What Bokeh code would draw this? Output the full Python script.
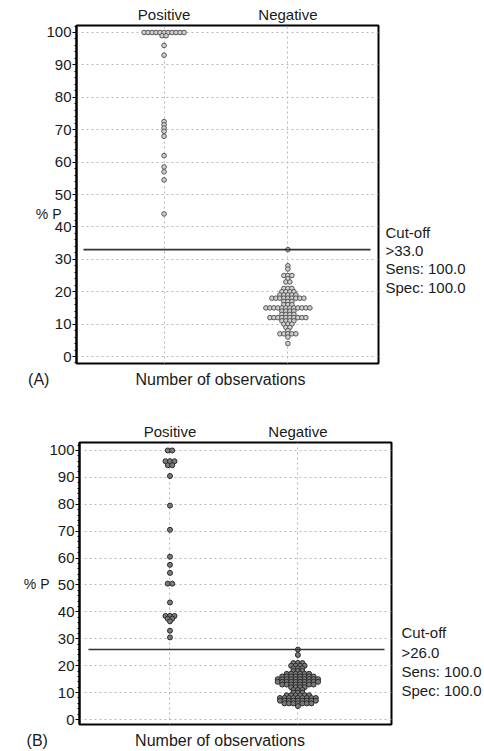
from bokeh.plotting import figure
from bokeh.models import FixedTicker, SingleIntervalTicker, Range1d, LinearAxis
from bokeh.embed import file_html
from bokeh.resources import INLINE

# ---------------- data ----------------
categories = ["Positive", "Negative"]
y_ticks = [0, 10, 20, 30, 40, 50, 60, 70, 80, 90, 100]
x_title = "Number of observations"
y_title = "% P"

# Panel A
a_pos_values = [100, 99, 96, 93, 72.5, 71.5, 70.5, 69.5, 68, 62, 58.5, 57, 54.5, 44]
a_pos_counts = [11, 2, 1, 1, 1, 1, 1, 1, 1, 1, 1, 1, 1, 1]
a_neg_values = [33, 28, 27, 25, 24, 23, 21, 20, 19, 18, 17, 16, 15, 14, 13, 12, 11, 10, 9, 8, 7, 6, 4]
a_neg_counts = [1, 1, 1, 3, 1, 2, 3, 4, 5, 9, 3, 3, 12, 4, 4, 10, 4, 3, 2, 1, 5, 1, 1]
a_cutoff = 33.0
a_texts = ["Cut-off", ">33.0", "Sens: 100.0", "Spec: 100.0"]

# Panel B
b_pos_values = [100, 96, 94.5, 90.5, 79.5, 70.5, 60.5, 57.5, 54.5, 50.5, 43.5, 38.5, 37.5, 36.5, 33, 30.5]
b_pos_counts = [2, 3, 2, 1, 1, 1, 1, 1, 1, 2, 1, 3, 2, 1, 1, 1]
b_neg_values = [26, 24, 21, 20, 19, 18, 17, 16, 15, 14, 13, 12, 11, 10, 9, 8, 7, 6, 5]
b_neg_counts = [1, 1, 3, 4, 3, 3, 6, 8, 10, 10, 8, 4, 3, 3, 6, 9, 9, 7, 1]
b_cutoff = 26.0
b_texts = ["Cut-off", ">26.0", "Sens: 100.0", "Spec: 100.0"]

POS_X, NEG_X = 2.9, 7.0
FONT = "Liberation Sans"
TXT = "#1a1a1a"
W = 484
NBSP = "\u00a0"


def swarm(center, values, counts, dx):
    xs, ys = [], []
    for v, n in zip(values, counts):
        for i in range(n):
            xs.append(center + (i - (n - 1) / 2) * dx)
            ys.append(v)
    return xs, ys


def text_axis(ax, size):
    ax.axis_line_color = None
    ax.major_tick_line_color = None
    ax.minor_tick_line_color = None
    ax.major_tick_out = 0
    ax.major_tick_in = 0
    ax.major_label_text_font = FONT
    ax.major_label_text_font_size = size
    ax.major_label_text_color = TXT


def panel(cfg):
    fl, ft, fw, fh = cfg["frame"]  # canvas coords of frame
    top0 = cfg["top0"]
    H = cfg["height"]
    y0, y1 = cfg["yr"]
    p = figure(width=W, height=H, output_backend="svg", toolbar_location=None,
               x_range=Range1d(0, 10), y_range=Range1d(y0, y1),
               min_border_left=fl, min_border_right=W - (fl + fw),
               min_border_top=ft - top0, min_border_bottom=top0 + H - (ft + fh),
               background_fill_color="white", border_fill_color="white")
    p.outline_line_color = "black"
    p.outline_line_width = 2

    def dx_(px):
        return round((px - fl) / fw * 10.0, 4)

    def dy_(py):
        return round(y1 - (py - ft) / fh * (y1 - y0), 3)

    # grids
    p.xgrid.ticker = FixedTicker(ticks=[POS_X, NEG_X])
    p.xgrid.grid_line_color = "#b8b8b8"
    p.xgrid.grid_line_dash = "2 3"
    p.ygrid.ticker = FixedTicker(ticks=y_ticks)
    p.ygrid.grid_line_color = "#b8b8b8"
    p.ygrid.grid_line_dash = "2 3"

    # below axis: panel tag and x title on one row (tick labels are centred)
    bx = p.xaxis[0]
    tag_x = 0.0
    tag_w = 21.3
    pad = int(round((2 * (fl - cfg["tag_left"]) - tag_w) / 4.45))
    nob_x = dx_(cfg["nob_center"])
    bx.ticker = FixedTicker(ticks=[tag_x, nob_x])
    bx.major_label_overrides = {tag_x: cfg["tag"] + NBSP * pad, nob_x: x_title}
    text_axis(bx, "16px")
    bx.major_label_standoff = cfg["nob_standoff"]

    # above axis: categories
    top = LinearAxis(ticker=FixedTicker(ticks=[POS_X, NEG_X]),
                     major_label_overrides={POS_X: categories[0], NEG_X: categories[1]})
    text_axis(top, "15px")
    top.major_label_standoff = 3
    p.add_layout(top, "above")

    # right axis: cut-off texts
    rys = [dy_(py) for py in cfg["txt_y"]]
    right = LinearAxis(ticker=FixedTicker(ticks=rys),
                       major_label_overrides={v: t for v, t in zip(rys, cfg["texts"])})
    text_axis(right, "15px")
    right.major_label_standoff = cfg["txt_standoff"]
    p.add_layout(right, "right")

    # left value axis
    ax = p.yaxis[0]
    ax.ticker = SingleIntervalTicker(interval=10, num_minor_ticks=5)
    ax.axis_line_color = "black"
    ax.axis_line_width = 2
    ax.major_tick_out = 4
    ax.major_tick_in = 0
    ax.minor_tick_out = 2
    ax.minor_tick_in = 0
    ax.major_label_standoff = 1
    ax.major_label_text_font = FONT
    ax.major_label_text_font_size = "15px"
    ax.major_label_text_color = TXT
    ax.axis_label = cfg["ylab"]
    ax.axis_label_orientation = "horizontal"
    ax.axis_label_standoff = cfg["ylab_standoff"]
    ax.axis_label_text_font = FONT
    ax.axis_label_text_font_style = "normal"
    ax.axis_label_text_font_size = "14px"
    ax.axis_label_text_color = TXT

    dx = cfg["dotpx"] / fw * 10.0
    for center, vals, cnts in [(POS_X, cfg["pos"][0], cfg["pos"][1]),
                               (NEG_X, cfg["neg"][0], cfg["neg"][1])]:
        xs, ys = swarm(center, vals, cnts, dx)
        p.scatter(xs, ys, marker="circle", size=cfg["size"],
                  line_color=cfg["lc"], fill_color=cfg["fc"], line_width=1)

    x0, x1 = cfg["cut_x"]
    p.line([dx_(x0), dx_(x1)], [cfg["cut"], cfg["cut"]], line_color="#333333", line_width=1.6)
    return p


pA = panel(dict(frame=(76, 25, 302, 338), top0=0, height=390, yr=(-2.16, 102.16),
                pos=(a_pos_values, a_pos_counts), neg=(a_neg_values, a_neg_counts),
                dotpx=4.0, size=4.6, lc="#555555", fc="#d0d0d0",
                cut=a_cutoff, cut_x=(83, 370),
                ylab="\n\n" + y_title, ylab_standoff=-18,
                tag="(A)", tag_left=27, nob_center=220, nob_standoff=7,
                texts=a_texts, txt_y=[232, 250, 268, 287], txt_standoff=7))

pB = panel(dict(frame=(79, 442, 313, 283), top0=390, height=361, yr=(-1.85, 102.96),
                pos=(b_pos_values, b_pos_counts), neg=(b_neg_values, b_neg_counts),
                dotpx=4.5, size=5.0, lc="#2a2a2a", fc="#7a7a7a",
                cut=b_cutoff, cut_x=(88, 385),
                ylab=y_title, ylab_standoff=-3,
                tag="(B)", tag_left=27, nob_center=220, nob_standoff=7,
                texts=b_texts, txt_y=[633, 653, 672, 691], txt_standoff=10))

open("out.html", "w").write(file_html([pA, pB], INLINE))
